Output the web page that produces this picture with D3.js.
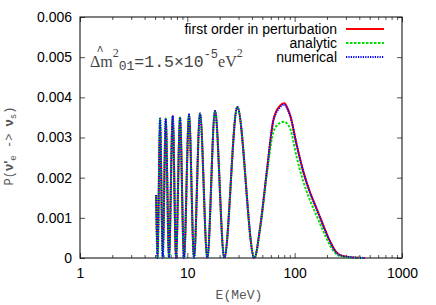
<!DOCTYPE html>
<html lang="en">
<head>
<meta charset="UTF-8">
<title>P(nu'e -> nus)</title>
<script src="https://d3js.org/d3.v7.min.js"></script>
<style>
	body { margin: 0; background: #fff; }
	text { font-family: "Liberation Sans", Arial, sans-serif; }
	.mono { font-family: "Liberation Mono", "Courier New", monospace; }
	.serif { font-family: "Liberation Serif", "Times New Roman", serif; }
</style>
</head>
<body>
<script>

	// energies (MeV) shared by the three curves
	var energy = [5.12, 5.28, 5.57, 5.90, 6.29, 6.75, 7.31, 7.85, 8.55, 9.31,
		10.37, 11.54, 13.13, 15.36, 18.11, 22.1, 29.2, 42.1, 47.6, 55.0,
		63.3, 67.0, 70.5, 80.2, 86.0, 90.6, 104.6, 120.5, 139.2, 155,
		172.6, 195, 214, 240, 265, 328, 400, 453];

	// first order in perturbation
	var firstOrder = [0.00157, 0, 0.00347, 0, 0.00347, 0, 0.00354, 0, 0.00350, 0,
		0.00357, 0, 0.00360, 0, 0.00366, 0, 0.00376, 0, 0.00075, 0.00215,
		0.00343, 0.00364, 0.00374, 0.00385, 0.00372, 0.00356, 0.00281, 0.00215, 0.00163, 0.00132,
		0.00101, 0.00066, 0.00041, 0.00017, 0.00007, 0.00002, 0.000005, 0];

	var analytic = [0.00157, 0, 0.00347, 0, 0.00347, 0, 0.00354, 0, 0.00350, 0,
		0.00357, 0, 0.00360, 0, 0.00366, 0, 0.00376, 0, 0.00072, 0.00208,
		0.00314, 0.00327, 0.00334, 0.00339, 0.00333, 0.00323, 0.00250, 0.00190, 0.00143, 0.00114,
		0.00085, 0.00053, 0.00031, 0.00012, 0.00005, 0.00001, 0.000002, 0];

	var numerical = [0.00157, 0, 0.00347, 0, 0.00347, 0, 0.00354, 0, 0.00350, 0,
		0.00357, 0, 0.00360, 0, 0.00366, 0, 0.00376, 0, 0.00075, 0.00215,
		0.00342, 0.00361, 0.00370, 0.00382, 0.00370, 0.00355, 0.00280, 0.00214, 0.00162, 0.00131,
		0.00100, 0.00065, 0.00040, 0.00016, 0.00007, 0.00002, 0.000005, 0];

	var yTicks = [0, 0.001, 0.002, 0.003, 0.004, 0.005, 0.006];
	var yTickLabels = ["0", "0.001", "0.002", "0.003", "0.004", "0.005", "0.006"];
	var xTicks = [1, 10, 100, 1000];
	var xTickLabels = ["1", "10", "100", "1000"];
	var legendLabels = ["first order in perturbation", "analytic", "numerical"];

	var w = 436, h = 305;
	var plotLeft = 80, plotRight = 402, plotTop = 17, plotBottom = 258;

	var x = d3.scaleLog().domain([1, 1000]).range([plotLeft, plotRight]);
	var y = d3.scaleLinear().domain([0, 0.006]).range([plotBottom, plotTop]);

	var svg = d3.select("body").append("svg")
		.attr("width", w)
		.attr("height", h);

	// minor log ticks
	var minor = [];
	for (var d = 1; d < 1000; d *= 10) {
		for (var k = 2; k <= 9; k++) minor.push(d * k);
	}

	function styleAxis(g) {
		g.select(".domain").remove();
		g.selectAll("line").attr("stroke", "#555");
	}

	svg.append("g").attr("transform", "translate(0," + plotBottom + ")")
		.call(d3.axisBottom(x).tickValues(minor).tickSize(-3).tickFormat(""))
		.call(styleAxis);
	svg.append("g").attr("transform", "translate(0," + plotTop + ")")
		.call(d3.axisTop(x).tickValues(minor).tickSize(-3).tickFormat(""))
		.call(styleAxis);
	svg.append("g").attr("transform", "translate(0," + plotTop + ")")
		.call(d3.axisTop(x).tickValues(xTicks).tickSize(-5).tickFormat(""))
		.call(styleAxis);

	var xAxis = svg.append("g").attr("transform", "translate(0," + plotBottom + ")")
		.call(d3.axisBottom(x).tickValues(xTicks).tickSize(-5).tickPadding(10)
			.tickFormat(function (d, i) { return xTickLabels[i]; }))
		.call(styleAxis);
	xAxis.selectAll("text").attr("font-size", 14).attr("fill", "#000")
		.attr("font-family", "Liberation Sans, Arial, sans-serif");

	var yAxis = svg.append("g").attr("transform", "translate(" + plotLeft + ",0)")
		.call(d3.axisLeft(y).tickValues(yTicks).tickSize(-5).tickPadding(8)
			.tickFormat(function (d, i) { return yTickLabels[i]; }))
		.call(styleAxis);
	yAxis.selectAll("text").attr("font-size", 14).attr("fill", "#000")
		.attr("font-family", "Liberation Sans, Arial, sans-serif");

	svg.append("g").attr("transform", "translate(" + plotRight + ",0)")
		.call(d3.axisRight(y).tickValues(yTicks).tickSize(-5).tickFormat(""))
		.call(styleAxis);

	// frame
	svg.append("rect")
		.attr("x", plotLeft).attr("y", plotTop)
		.attr("width", plotRight - plotLeft).attr("height", plotBottom - plotTop)
		.attr("fill", "none").attr("stroke", "#000").attr("stroke-width", 1);

	// curves
	var series = [
		{ values: firstOrder, color: "#ff0000", dash: null, width: 2 },
		{ values: analytic, color: "#00e000", dash: "2.5,1.5", width: 2 },
		{ values: numerical, color: "#0000ff", dash: "1.2,1.2", width: 2 }
	];

	var line = d3.line()
		.x(function (d) { return x(d[0]); })
		.y(function (d) { return y(d[1]); })
		.curve(d3.curveMonotoneX);

	series.forEach(function (s) {
		var pts = energy.map(function (e, i) { return [e, s.values[i]]; });
		svg.append("path")
			.attr("d", line(pts))
			.attr("fill", "none")
			.attr("stroke", s.color)
			.attr("stroke-width", s.width)
			.attr("stroke-dasharray", s.dash);
	});

	// legend
	var legendY = [29, 43, 57];
	series.forEach(function (s, i) {
		svg.append("text")
			.attr("x", 337).attr("y", legendY[i] + 5)
			.attr("text-anchor", "end")
			.attr("font-size", 14)
			.text(legendLabels[i]);
		svg.append("line")
			.attr("x1", 346).attr("x2", 384)
			.attr("y1", legendY[i]).attr("y2", legendY[i])
			.attr("stroke", s.color)
			.attr("stroke-width", s.width)
			.attr("stroke-dasharray", s.dash);
	});

	// annotation
	var ann = svg.append("text").attr("x", 90).attr("y", 67).attr("fill", "#444");
	ann.append("tspan").attr("class", "serif").attr("font-size", 16).text("\u0394m");
	ann.append("tspan").attr("class", "serif").attr("font-size", 12).attr("dy", -10).text("2");
	ann.append("tspan").attr("class", "mono").attr("font-size", 13).attr("dy", 13).text("01");
	ann.append("tspan").attr("class", "mono").attr("font-size", 16.5).attr("dy", -3).text("=1.5\u00d710");
	ann.append("tspan").attr("class", "mono").attr("font-size", 12).attr("dy", -9).text("-5");
	ann.append("tspan").attr("class", "serif").attr("font-size", 16).attr("dy", 9).text("eV");
	ann.append("tspan").attr("class", "serif").attr("font-size", 12).attr("dy", -10).text("2");
	svg.append("text").attr("class", "mono").attr("x", 100).attr("y", 55)
		.attr("font-size", 12).attr("fill", "#444").attr("text-anchor", "middle").text("^");

	// axis titles
	svg.append("text").attr("class", "mono")
		.attr("x", 239).attr("y", 299)
		.attr("text-anchor", "middle")
		.attr("font-size", 13).attr("fill", "#555")
		.text("E(MeV)");

	var yt = svg.append("text")
		.attr("transform", "translate(13,146) rotate(-90)")
		.attr("text-anchor", "middle")
		.attr("fill", "#555");
	yt.append("tspan").attr("class", "mono").attr("font-size", 12).text("P(");
	yt.append("tspan").attr("font-size", 13).attr("font-weight", "bold").text("\u03bd'");
	yt.append("tspan").attr("class", "mono").attr("font-size", 9).attr("dy", 3).text("e");
	yt.append("tspan").attr("class", "mono").attr("font-size", 12).attr("dy", -3).text(" -> ");
	yt.append("tspan").attr("font-size", 13).attr("font-weight", "bold").text("\u03bd");
	yt.append("tspan").attr("class", "mono").attr("font-size", 9).attr("dy", 3).text("s");
	yt.append("tspan").attr("class", "mono").attr("font-size", 12).attr("dy", -3).text(")");

</script>
</body>
</html>
